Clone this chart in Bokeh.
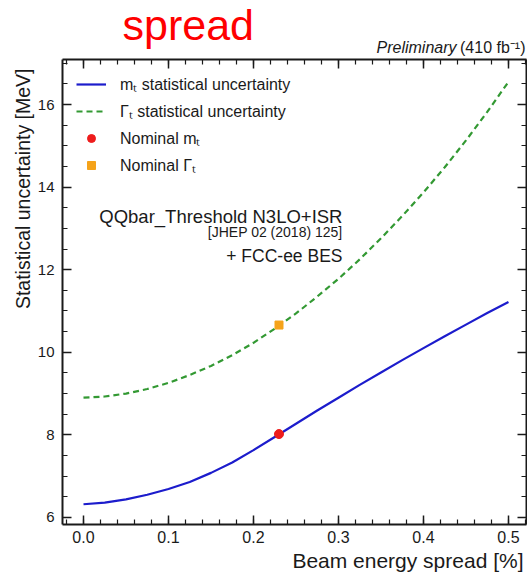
import numpy as np
from bokeh.plotting import figure
from bokeh.layouts import column
from bokeh.core.properties import value
from bokeh.models import (Range1d, FixedTicker, LinearAxis, Legend, Title,
                          LegendItem, PrintfTickFormatter)
from bokeh.embed import file_html
from bokeh.resources import INLINE

# ---------------- data ----------------
spread = [0.000, 0.025, 0.050, 0.075, 0.100, 0.125, 0.150, 0.175, 0.200, 0.225,
          0.250, 0.275, 0.300, 0.325, 0.350, 0.375, 0.400, 0.425, 0.450, 0.475, 0.500]
mt_unc = [6.32, 6.36, 6.44, 6.55, 6.69, 6.86, 7.08, 7.33, 7.63, 7.95,
          8.27, 8.59, 8.90, 9.21, 9.51, 9.81, 10.10, 10.39, 10.67, 10.95, 11.22]
gt_unc = [8.90, 8.93, 9.00, 9.11, 9.26, 9.45, 9.67, 9.93, 10.23, 10.57,
          10.94, 11.35, 11.78, 12.25, 12.76, 13.30, 13.87, 14.48, 15.13, 15.82, 16.55]
nominal_spread = [0.23]
nominal_mt = [8.02]
nominal_gt = [10.66]

x_ticks = [0.0, 0.1, 0.2, 0.3, 0.4, 0.5]
y_ticks = [6, 8, 10, 12, 14, 16]

FONT = "Liberation Sans"
TXT = "#1a1a1a"

# ---------------- header strip (texts above the frame) ----------------
# the column aligns this strip's frame with the main frame (x from 62 to 526 px)
head = figure(width=527, height=56, output_backend="svg", toolbar_location=None,
              x_range=Range1d(62, 526), y_range=Range1d(56, 0),
              min_border=0, x_axis_type=None, y_axis_type=None)
head.outline_line_color = None
head.xgrid.visible = False
head.ygrid.visible = False
head.text(x=[122], y=[24.5], text=["spread"], text_font=value(FONT),
          text_font_size="43px", text_color="#ff0000", text_align="left",
          text_baseline="alphabetic")
head.text(x=[456], y=[47], text=["Preliminary"], text_font=value(FONT),
          text_font_size="16px", text_font_style="italic", text_color=TXT,
          text_align="right", text_baseline="alphabetic")
head.text(x=[525], y=[47], text=["(410 fb\u207b\u00b9)"], text_font=value(FONT),
          text_font_size="16px", text_color=TXT, text_align="right",
          text_baseline="alphabetic")

# ---------------- main plot ----------------
p = figure(width=527, height=520, output_backend="svg", toolbar_location=None,
           x_range=Range1d(-0.0247, 0.5212), y_range=Range1d(5.83, 17.09),
           min_border_left=62, min_border_right=1, min_border_top=3,
           min_border_bottom=52, x_axis_type=None, y_axis_type=None)
p.outline_line_color = None
p.xgrid.visible = False
p.ygrid.visible = False

x_minor = list(np.round(np.arange(-0.02, 0.53, 0.02), 3))
y_minor = list(np.arange(6.0, 17.01, 0.5))
xt = FixedTicker(ticks=x_ticks, minor_ticks=x_minor)
yt = FixedTicker(ticks=y_ticks, minor_ticks=y_minor)


def style(ax, labels):
    ax.axis_line_color = TXT
    ax.axis_line_width = 2
    ax.major_tick_line_color = TXT
    ax.minor_tick_line_color = TXT
    ax.major_tick_line_width = 1.5
    ax.minor_tick_line_width = 1.2
    ax.major_tick_in = 9
    ax.major_tick_out = 0
    ax.minor_tick_in = 5
    ax.minor_tick_out = 0
    ax.major_label_text_font = FONT
    ax.major_label_text_color = TXT
    if not labels:
        ax.major_label_text_font_size = "0px"
        ax.major_label_standoff = 0
        ax.major_label_text_alpha = 0


xb = LinearAxis(ticker=xt, formatter=PrintfTickFormatter(format="%.1f"))
style(xb, True)
xb.major_label_text_font_size = "16px"
xb.major_label_standoff = 6
p.add_layout(xb, "below")

yl = LinearAxis(ticker=yt, formatter=PrintfTickFormatter(format="%d"))
style(yl, True)
yl.major_label_text_font_size = "15px"
yl.major_label_standoff = 8
p.add_layout(yl, "left")

xa = LinearAxis(ticker=xt)
style(xa, False)
p.add_layout(xa, "above")

yr = LinearAxis(ticker=yt)
style(yr, False)
p.add_layout(yr, "right")

# axis titles, aligned to the far end of each axis
p.add_layout(Title(text="Beam energy spread [%]", align="right", offset=3,
                   standoff=2, text_font=FONT, text_font_size="21px",
                   text_font_style="normal", text_color=TXT), "below")
p.add_layout(Title(text="Statistical uncertainty [MeV]", align="right", offset=9,
                   standoff=2, text_font=FONT, text_font_size="19.5px",
                   text_font_style="normal", text_color=TXT), "left")

# ---------------- curves and points ----------------
r_mt = p.line(spread, mt_unc, line_color="#1c1ccc", line_width=2.2)
r_gt = p.line(spread, gt_unc, line_color="#339933", line_width=2.2, line_dash="6 4")
r_nmt = p.scatter(nominal_spread, nominal_mt, marker="circle", size=9,
                  fill_color="#ee1c1c", line_color="#ee1c1c")
r_ngt = p.scatter(nominal_spread, nominal_gt, marker="square", size=8,
                  fill_color="#f5a31a", line_color="#f5a31a")

legend = Legend(items=[
    LegendItem(label="m\u209c statistical uncertainty", renderers=[r_mt]),
    LegendItem(label="\u0393\u209c statistical uncertainty", renderers=[r_gt]),
    LegendItem(label="Nominal m\u209c", renderers=[r_nmt]),
    LegendItem(label="Nominal \u0393\u209c", renderers=[r_ngt]),
], location="top_left")
legend.margin = 14
legend.padding = 6
legend.spacing = 5
legend.label_height = 20
legend.glyph_height = 20
legend.glyph_width = 30
legend.label_standoff = 14
legend.label_text_font = FONT
legend.label_text_font_size = "16px"
legend.label_text_color = TXT
legend.border_line_color = None
legend.background_fill_alpha = 0
p.add_layout(legend)

# ---------------- annotation text inside the frame ----------------
p.text(x=[0.3047], y=[13.30], text=["QQbar_Threshold N3LO+ISR"], text_font=value(FONT),
       text_font_size="18.5px", text_color=TXT, text_align="right",
       text_baseline="alphabetic")
p.text(x=[0.3047], y=[12.92], text=["[JHEP 02 (2018) 125]"], text_font=value(FONT),
       text_font_size="14px", text_color=TXT, text_align="right",
       text_baseline="alphabetic")
p.text(x=[0.3047], y=[12.33], text=["+ FCC-ee BES"], text_font=value(FONT),
       text_font_size="17.5px", text_color=TXT, text_align="right",
       text_baseline="alphabetic")

layout = column(head, p, spacing=0)
open("out.html", "w").write(file_html(layout, INLINE))
